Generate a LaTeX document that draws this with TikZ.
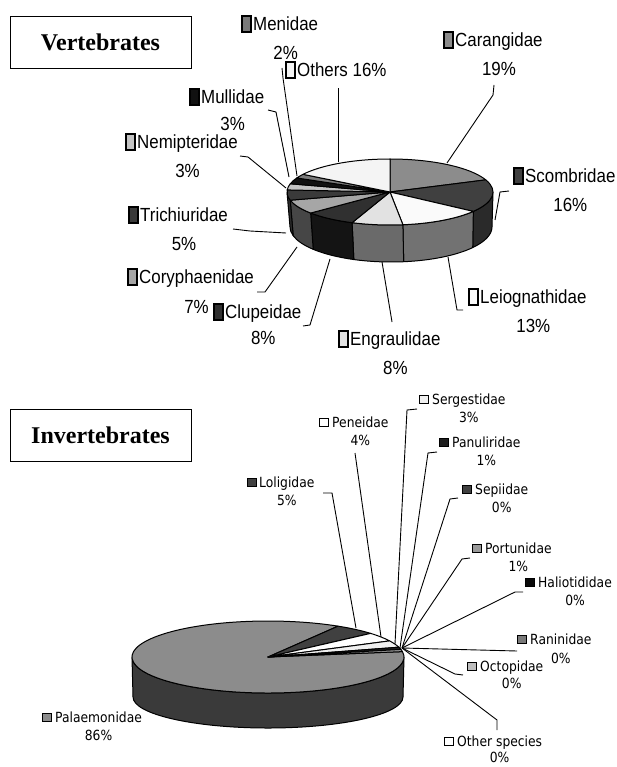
\documentclass[tikz,border=0pt]{standalone}
\usepackage{fontspec}
\setmainfont{Liberation Serif}
\newfontfamily\vfont[FakeStretch=0.89]{Liberation Sans}
\newfontfamily\ifont[FakeStretch=0.88]{DejaVu Sans}
\usetikzlibrary{positioning}
% top pie, faces
\definecolor{vCar}{HTML}{8C8C8C}\definecolor{vSco}{HTML}{404040}
\definecolor{vLei}{HTML}{FAFAFA}\definecolor{vEng}{HTML}{E2E2E2}
\definecolor{vClu}{HTML}{303030}\definecolor{vCor}{HTML}{A6A6A6}
\definecolor{vTri}{HTML}{3A3A3A}\definecolor{vNem}{HTML}{C4C4C4}
\definecolor{vMul}{HTML}{111111}\definecolor{vMen}{HTML}{7A7A7A}
\definecolor{vOth}{HTML}{F4F4F4}
% top pie, sides
\definecolor{vScoS}{HTML}{2A2A2A}\definecolor{vLeiS}{HTML}{727272}
\definecolor{vEngS}{HTML}{6A6A6A}\definecolor{vCluS}{HTML}{141414}
\definecolor{vCorS}{HTML}{464646}\definecolor{vTriS}{HTML}{2C2C2C}
% bottom pie
\definecolor{iPal}{HTML}{8C8C8C}\definecolor{iPalS}{HTML}{3A3A3A}
\definecolor{iLol}{HTML}{404040}\definecolor{iPen}{HTML}{FFFFFF}
\definecolor{iSer}{HTML}{F0F0F0}\definecolor{iPan}{HTML}{1E1E1E}
\definecolor{iSep}{HTML}{404040}\definecolor{iPor}{HTML}{9A9A9A}
\definecolor{iHal}{HTML}{0A0A0A}\definecolor{iRan}{HTML}{7A7A7A}
\definecolor{iOct}{HTML}{BDBDBD}\definecolor{iOth}{HTML}{FFFFFF}
\tikzset{
  pie/.style={line width=1pt,line join=round},
  lead/.style={line width=0.9pt},
  title/.style={draw,line width=0.8pt,minimum width=181pt,minimum height=52pt,inner sep=0pt,
    font=\bfseries\fontsize{24}{24}\selectfont},
  vlab/.style={inner sep=0pt,text height=13.6pt,text depth=0pt,font=\vfont\fontsize{19}{22}\selectfont},
  ilab/.style={inner sep=0pt,text height=10pt,text depth=0pt,font=\ifont\fontsize{14}{16}\selectfont},
  vkey/.style={draw,line width=1.6pt,minimum width=9pt,minimum height=16pt,inner sep=0pt},
  ikey/.style={draw,line width=0.8pt,minimum width=9pt,minimum height=8pt,inner sep=0pt}
}
\begin{document}
\begin{tikzpicture}[x=1pt,y=-1pt]
  \path[use as bounding box,fill=white](0,0)rectangle(616,767);
  \node[title](vert)at(100.5,42){Vertebrates};
  \node[title](invert)at(100.5,435){Invertebrates};
  % Vertebrates pie
  \coordinate(vc)at(390,192);
  \coordinate(vb)at(391,227);
  \foreach \a/\b/\c in {0/36/vScoS,36/82.8/vLeiS,82.8/111.6/vEngS,111.6/140.4/vCluS,140.4/165.6/vCorS,165.6/180/vTriS}
    \filldraw[pie,fill=\c]([shift={(vc)}]\a:103 and 33)arc[start angle=\a,end angle=\b,x radius=103,y radius=33]
      --([shift={(vb)}]\b:101 and 35)arc[start angle=\b,end angle=\a,x radius=101,y radius=35]--cycle;
  \foreach \a/\b/\c in {-90/-21.6/vCar,-21.6/36/vSco,36/82.8/vLei,82.8/111.6/vEng,111.6/140.4/vClu,140.4/165.6/vCor,
      165.6/183.6/vTri,183.6/194.4/vNem,194.4/205.2/vMul,205.2/212.4/vMen,212.4/270/vOth}
    \filldraw[pie,fill=\c](vc)--([shift={(vc)}]\a:103 and 33)arc[start angle=\a,end angle=\b,x radius=103,y radius=33]--cycle;
  \node[vlab,anchor=west](men)at(253,24){Menidae};
  \node[vkey,fill=vMen,left=1.5pt of men](menK){};
  \node[vlab,below=14.4pt of men](menV){2\%};
  \node[vlab,anchor=west](oth)at(297,70){Others 16\%};
  \node[vkey,fill=vOth,left=1.5pt of oth](othK){};
  \node[vlab,anchor=west](car)at(455,40){Carangidae};
  \node[vkey,fill=vCar,left=1.5pt of car](carK){};
  \node[vlab,below=14.4pt of car](carV){19\%};
  \node[vlab,anchor=west](sco)at(525,176){Scombridae};
  \node[vkey,fill=vSco,left=1.5pt of sco](scoK){};
  \node[vlab,below=14.4pt of sco](scoV){16\%};
  \node[vlab,anchor=west](lei)at(480,297){Leiognathidae};
  \node[vkey,fill=vLei,left=1.5pt of lei](leiK){};
  \node[vlab,below=14.4pt of lei](leiV){13\%};
  \node[vlab,anchor=west](eng)at(350,339){Engraulidae};
  \node[vkey,fill=vEng,left=1.5pt of eng](engK){};
  \node[vlab,below=14.4pt of eng](engV){8\%};
  \node[vlab,anchor=west](clu)at(225,312){Clupeidae};
  \node[vkey,fill=vClu,left=1.5pt of clu](cluK){};
  \node[vlab,below=12pt of clu](cluV){8\%};
  \node[vlab,anchor=west](cor)at(139,277){Coryphaenidae};
  \node[vkey,fill=vCor,left=1.5pt of cor](corK){};
  \node[vlab,below=16pt of cor](corV){7\%};
  \node[vlab,anchor=west](tri)at(140,215){Trichiuridae};
  \node[vkey,fill=vTri,left=1.5pt of tri](triK){};
  \node[vlab,below=14.4pt of tri](triV){5\%};
  \node[vlab,anchor=west](nem)at(137,142){Nemipteridae};
  \node[vkey,fill=vNem,left=1.5pt of nem](nemK){};
  \node[vlab,below=14.4pt of nem](nemV){3\%};
  \node[vlab,anchor=west](mul)at(201,97){Mullidae};
  \node[vkey,fill=vMul,left=1.5pt of mul](mulK){};
  \node[vlab,below=12.4pt of mul](mulV){3\%};
  \coordinate(carP)at(447,163);\coordinate(scoP)at(495,220);\coordinate(leiP)at(448,257);
  \coordinate(engP)at(382,262);\coordinate(cluP)at(330,259);\coordinate(corP)at(297,247);
  \coordinate(triP)at(286,233);\coordinate(nemP)at(286,188);\coordinate(mulP)at(289,177);
  \coordinate(menP)at(297,176);\coordinate(othP)at(338,162);
  \draw[lead](carP)--++(46,-68)--++(1,-10);
  \draw[lead](scoP)--++(5,-28)--++(9,-1);
  \draw[lead](leiP)--++(9,53)--++(6,0);
  \draw[lead](engP)--++(10,60);
  \draw[lead](cluP)--++(-20,66)--++(-7,1);
  \draw[lead](corP)--++(-32,45)--++(-8,0);
  \draw[lead](triP)--++(-36,-2)--++(-17,-2);
  \draw[lead](nemP)--++(-38,-31)--++(-8,-1);
  \draw[lead](mulP)--++(-13,-65)--++(-8,-2);
  \draw[lead](menP)--++(-14,-98)--++(-1,-10);
  \draw[lead](othP)--++(0,-74);
  % Invertebrates pie
  \coordinate(ic)at(268,657);
  \coordinate(ib)at(268,697);
  \filldraw[pie,fill=iPalS]([shift={(ic)}]0:136 and 36)arc[start angle=0,end angle=180,x radius=136,y radius=36]
    --([shift={(ib)}]180:135 and 31)arc[start angle=180,end angle=0,x radius=135,y radius=31]--cycle;
  \foreach \a/\b/\c in {-8.6/301/iPal,-59/-41/iLol,-41/-26.6/iPen,-26.6/-15.8/iSer,-15.8/-12.2/iPan,-12.2/-8.6/iPor}
    \filldraw[pie,fill=\c](ic)--([shift={(ic)}]\a:136 and 36)arc[start angle=\a,end angle=\b,x radius=136,y radius=36]--cycle;
  \node[ilab,anchor=west](pal)at(55,717){Palaemonidae};
  \node[ikey,fill=iPal,left=3pt of pal](palK){};
  \node[ilab,below=8pt of pal](palV){86\%};
  \node[ilab,anchor=west](lol)at(259,482){Loligidae};
  \node[ikey,fill=iLol,left=2pt of lol](lolK){};
  \node[ilab,below=8pt of lol](lolV){5\%};
  \node[ilab,anchor=west](pen)at(332,422){Peneidae};
  \node[ikey,fill=iPen,left=3pt of pen](penK){};
  \node[ilab,below=8pt of pen](penV){4\%};
  \node[ilab,anchor=west](ser)at(432,399){Sergestidae};
  \node[ikey,fill=iSer,left=3pt of ser](serK){};
  \node[ilab,below=8pt of ser](serV){3\%};
  \node[ilab,anchor=west](pan)at(452,442){Panuliridae};
  \node[ikey,fill=iPan,left=3pt of pan](panK){};
  \node[ilab,below=8pt of pan](panV){1\%};
  \node[ilab,anchor=west](sep)at(475,489){Sepiidae};
  \node[ikey,fill=iSep,left=3pt of sep](sepK){};
  \node[ilab,below=8pt of sep](sepV){0\%};
  \node[ilab,anchor=west](por)at(485,548){Portunidae};
  \node[ikey,fill=iPor,left=3pt of por](porK){};
  \node[ilab,below=8pt of por](porV){1\%};
  \node[ilab,anchor=west](hal)at(538,582){Haliotididae};
  \node[ikey,fill=iHal,left=3pt of hal](halK){};
  \node[ilab,below=8pt of hal](halV){0\%};
  \node[ilab,anchor=west](ran)at(530,639){Raninidae};
  \node[ikey,fill=iRan,left=3pt of ran](ranK){};
  \node[ilab,below=9pt of ran](ranV){0\%};
  \node[ilab,anchor=west](oct)at(480,666){Octopidae};
  \node[ikey,fill=iOct,left=3pt of oct](octK){};
  \node[ilab,below=7pt of oct](octV){0\%};
  \node[ilab,anchor=west](osp)at(457,741){Other species};
  \node[ikey,fill=iOth,left=3pt of osp](ospK){};
  \node[ilab,below=6pt of osp](ospV){0\%};
  \coordinate(lolP)at(356,628);\coordinate(penP)at(381,637);\coordinate(serP)at(395,644);
  \coordinate(panP)at(400,648);\coordinate(hub)at(402,648);
  \draw[lead](lolP)--++(-24,-135)--++(-9,0);
  \draw[lead](penP)--++(-26,-184);
  \draw[lead](serP)--++(12,-234)--++(10,-1);
  \draw[lead](panP)--++(28,-195)--++(9,-1);
  \draw[lead](hub)--++(48,-149)--++(8,-1);
  \draw[lead](hub)--++(60,-89)--++(8,-1);
  \draw[lead](hub)--++(113,-56)--++(8,0);
  \draw[lead](hub)--++(115,3);
  \draw[lead](hub)--++(53,26)--++(8,1);
  \draw[lead](hub)--++(95,72)--++(0,10);
\end{tikzpicture}
\end{document}
